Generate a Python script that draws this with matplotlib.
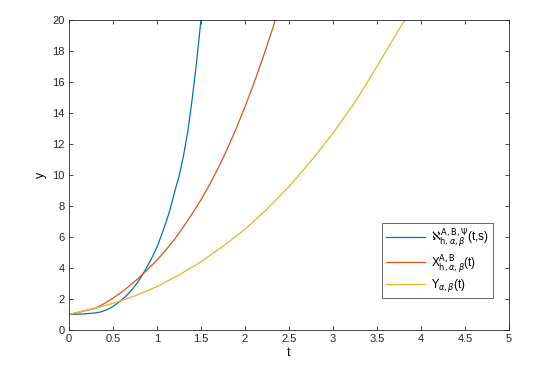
import matplotlib
matplotlib.use("Agg")
import matplotlib.pyplot as plt

plt.rcParams['font.family'] = ['Liberation Sans', 'DejaVu Sans']
plt.rcParams['mathtext.fontset'] = 'dejavusans'

# Data
t_aleph = [0.0, 0.1, 0.2, 0.3, 0.35, 0.4, 0.45, 0.5, 0.55, 0.6, 0.65, 0.7, 0.75, 0.8, 0.85,
           0.9, 0.95, 1.0, 1.05, 1.1, 1.15, 1.2, 1.25, 1.3, 1.35, 1.4, 1.45, 1.5]
y_aleph = [1.0, 1.02, 1.05, 1.1, 1.15, 1.24, 1.36, 1.52, 1.72, 1.95, 2.2, 2.5, 2.85, 3.25, 3.7,
           4.2, 4.75, 5.35, 6.1, 6.9, 7.8, 8.9, 9.9, 11.2, 12.8, 14.9, 17.3, 20.0]

t_x = [0.0, 0.1, 0.2, 0.3, 0.4, 0.5, 0.6, 0.7, 0.8, 0.9, 1.0, 1.1, 1.2, 1.3, 1.4, 1.5,
       1.6, 1.7, 1.8, 1.9, 2.0, 2.1, 2.2, 2.3, 2.4]
y_x = [1.0, 1.13, 1.27, 1.4, 1.7, 2.05, 2.45, 2.9, 3.4, 3.95, 4.5, 5.15, 5.85, 6.65, 7.5, 8.4,
       9.4, 10.5, 11.7, 13.0, 14.4, 15.9, 17.5, 19.2, 21.0]

t_ups = [0.0, 0.3, 0.5, 0.75, 1.0, 1.25, 1.5, 1.75, 2.0, 2.25, 2.5, 2.75, 3.0, 3.25, 3.5, 3.75, 3.85]
y_ups = [1.0, 1.4, 1.72, 2.2, 2.8, 3.55, 4.4, 5.4, 6.5, 7.8, 9.25, 10.9, 12.7, 14.7, 17.0, 19.4, 20.3]

labels = [r'$\aleph^{\mathrm{A,B},\Psi}_{\mathrm{h},\alpha,\beta}$(t,s)',
          r'X$^{\mathrm{A,B}}_{\mathrm{h},\alpha,\beta}$(t)',
          r'$\Upsilon_{\alpha,\beta}$(t)']
colors = ['#0072BD', '#D95319', '#EDB120']

fig = plt.figure(figsize=(5.41, 3.68), dpi=100)
ax = fig.add_axes([0.1275, 0.1033, 0.8134, 0.8424])

ax.plot(t_aleph, y_aleph, color=colors[0], lw=0.9, label=labels[0])
ax.plot(t_x, y_x, color=colors[1], lw=0.9, label=labels[1])
ax.plot(t_ups, y_ups, color=colors[2], lw=0.9, label=labels[2])

ax.set_xlim(0, 5)
ax.set_ylim(0, 20)
ax.set_xticks([0, 0.5, 1, 1.5, 2, 2.5, 3, 3.5, 4, 4.5, 5])
ax.set_xticklabels(['0', '0.5', '1', '1.5', '2', '2.5', '3', '3.5', '4', '4.5', '5'])
ax.set_yticks(range(0, 21, 2))
ax.tick_params(direction='in', top=True, right=True, labelsize=8, length=3,
               width=0.6, colors='#262626', pad=3)
for s in ax.spines.values():
    s.set_linewidth(0.6)
    s.set_color('#262626')
ax.set_xlabel('t', fontsize=9, labelpad=2)
ax.set_ylabel('y', fontsize=9, labelpad=4)

leg = ax.legend(loc='lower right', bbox_to_anchor=(0.9636, 0.103), borderaxespad=0,
                fontsize=8.5, frameon=True, fancybox=False, edgecolor='#262626',
                handlelength=3.3, borderpad=0.35, labelspacing=0.2, handletextpad=0.5)
leg.get_frame().set_linewidth(0.6)

fig.savefig('out.png', dpi=100)
